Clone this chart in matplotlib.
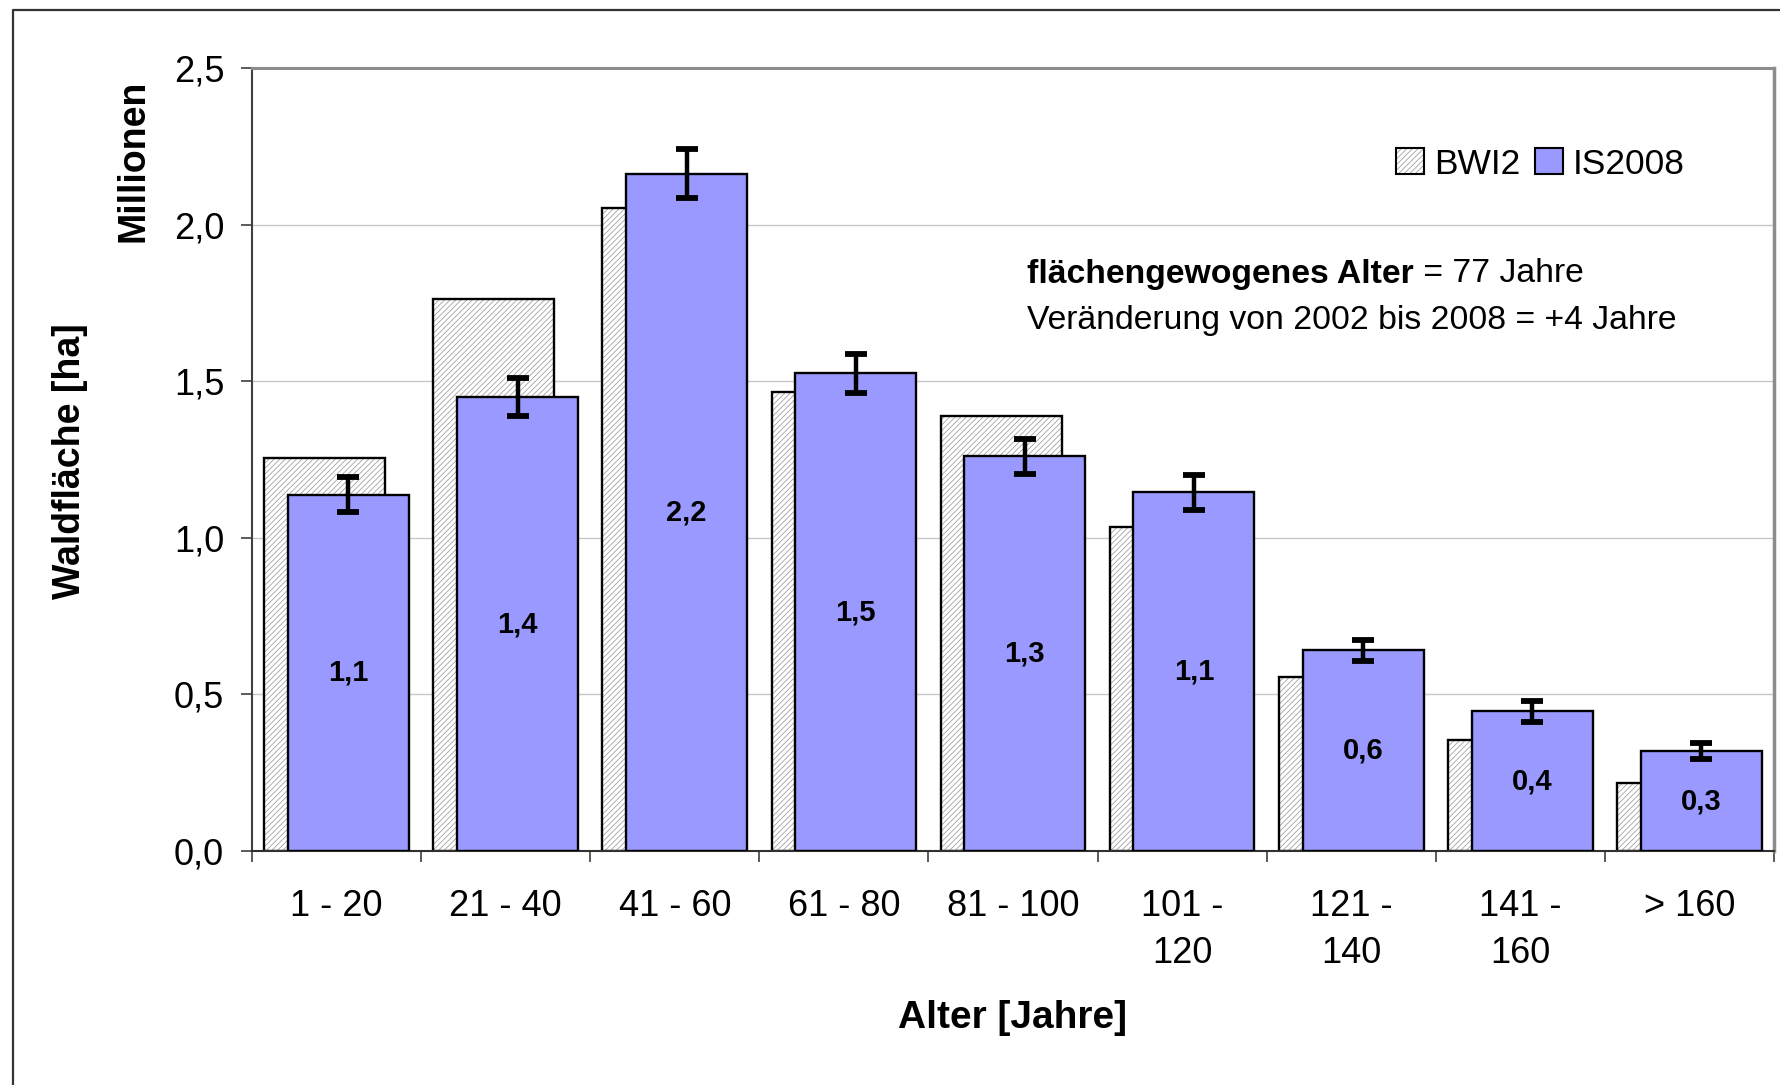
import matplotlib
matplotlib.use("Agg")
import matplotlib.pyplot as plt
from matplotlib.patches import Patch
from matplotlib.lines import Line2D
from matplotlib.legend_handler import HandlerTuple
import numpy as np

plt.rcParams['font.family'] = ['Liberation Sans', 'DejaVu Sans']
plt.rcParams['hatch.linewidth'] = 0.55

categories = ["1 - 20", "21 - 40", "41 - 60", "61 - 80", "81 - 100",
              "101 -\n120", "121 -\n140", "141 -\n160", "> 160"]
bwi2 = [1.254, 1.761, 2.054, 1.464, 1.388, 1.036, 0.554, 0.355, 0.217]
is2008 = [1.138, 1.449, 2.163, 1.525, 1.261, 1.145, 0.641, 0.446, 0.319]
is2008_err = [0.056, 0.060, 0.078, 0.063, 0.056, 0.056, 0.033, 0.033, 0.025]
yticks = [0.0, 0.5, 1.0, 1.5, 2.0, 2.5]

W, H = 1780, 1085
fig = plt.figure(figsize=(W / 100, H / 100), dpi=100)
ax = fig.add_axes([252 / W, 1 - 851 / H, (1774 - 252) / W, (851 - 68) / H])

x = np.arange(len(categories))
bw = 0.715
off = 0.07
HATCH = '//////'
HCOL = '#9a9a9a'

# grid
for yv in yticks[1:-1]:
    ax.axhline(yv, color='#c8c8c8', lw=1.0, zorder=0)

# BWI2 hatched bars (gray hatch, black edge)
ax.bar(x - off, bwi2, width=bw, facecolor='white', edgecolor=HCOL,
       hatch=HATCH, linewidth=0, zorder=2)
ax.bar(x - off, bwi2, width=bw, fill=False, edgecolor='black',
       linewidth=1.7, zorder=2.1)
# IS2008 bars
ax.bar(x + off, is2008, width=bw, facecolor='#9999ff', edgecolor='black',
       linewidth=1.7, zorder=3)
ax.errorbar(x + off, is2008, yerr=is2008_err, fmt='none', ecolor='black',
            elinewidth=3.2, capsize=8, capthick=4.2, zorder=4)

for xi, v in zip(x, is2008):
    ax.text(xi + off, v / 2, f"{v:.1f}".replace('.', ','), ha='center',
            va='center', fontsize=21, fontweight='bold', zorder=5)

ax.set_xlim(-0.5, len(categories) - 0.5)
ax.set_ylim(0, 2.5)

# ticks
ax.set_yticks(yticks)
ax.set_yticklabels([f"{v:.1f}".replace('.', ',') for v in yticks], fontsize=26)
ax.tick_params(axis='y', direction='out', length=8, width=1.2, color='#404040', pad=12)

ax.set_xticks(np.arange(len(categories) + 1) - 0.5)
ax.set_xticklabels([])
ax.set_xticks(x, minor=True)
ax.set_xticklabels(categories, minor=True, fontsize=26, linespacing=1.45, va='top')
ax.tick_params(axis='x', which='major', direction='out', length=8, width=1.2, color='#404040')
ax.tick_params(axis='x', which='minor', length=0, pad=27.5)

# spines
ax.spines['left'].set_color('#404040')
ax.spines['left'].set_linewidth(1.5)
ax.spines['bottom'].set_color('#303030')
ax.spines['bottom'].set_linewidth(1.5)
ax.spines['top'].set_color('#8c8c8c')
ax.spines['top'].set_linewidth(2.2)
ax.spines['right'].set_color('#8c8c8c')
ax.spines['right'].set_linewidth(2.5)

# legend
h1 = (Patch(facecolor='white', edgecolor=HCOL, hatch=HATCH, linewidth=0),
      Patch(fill=False, edgecolor='black', linewidth=1.5))
h2 = Patch(facecolor='#9999ff', edgecolor='black', linewidth=1.5)
ax.legend([h1, h2], ["BWI2", "IS2008"], ncol=2, frameon=False, fontsize=25.5,
          loc='center right', bbox_to_anchor=(1685 / W, 1 - 164 / H),
          bbox_transform=fig.transFigure, handlelength=0.78, handleheight=0.78,
          handletextpad=0.3, columnspacing=0.4, borderpad=0, borderaxespad=0,
          handler_map={tuple: HandlerTuple(ndivide=1)})

# annotation text with mixed weights
fig.canvas.draw()
r = fig.canvas.get_renderer()
t1 = fig.text(1027 / W, 1 - 274 / H, "flächengewogenes Alter", fontsize=24.3,
              fontweight='bold', ha='left', va='center')
bb = t1.get_window_extent(renderer=r)
fig.text(bb.x1 / W, 1 - 274 / H, " = 77 Jahre", fontsize=24.3, ha='left', va='center')
fig.text(1027 / W, 1 - 320 / H, "Veränderung von 2002 bis 2008 = +4 Jahre",
         fontsize=24.3, ha='left', va='center')

# axis labels
fig.text(70 / W, 1 - 461 / H, "Waldfläche [ha]", rotation=90, fontsize=27,
         fontweight='bold', ha='center', va='center')
fig.text(134 / W, 1 - 80 / H, "Millionen", rotation=90, fontsize=27,
         fontweight='bold', ha='center', va='top')
fig.text(1013 / W, 1 - 1018 / H, "Alter [Jahre]", fontsize=28,
         fontweight='bold', ha='center', va='center')

# outer chart frame (left and top visible)
fig.add_artist(Line2D([13 / W, 13 / W, 1.0], [0.0, 1 - 10 / H, 1 - 10 / H],
                      transform=fig.transFigure, color='#333333', lw=1.6))

fig.savefig("out.png", dpi=100)
